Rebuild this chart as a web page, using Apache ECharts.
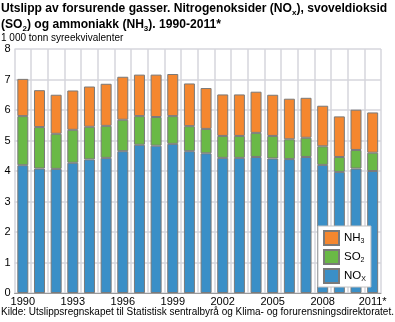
<!DOCTYPE html>
<html>
<head>
<meta charset="utf-8">
<script src="https://cdn.jsdelivr.net/npm/echarts@6/dist/echarts.min.js"></script>
<style>
  html, body { margin: 0; padding: 0; background: #fff; }
  #chart { width: 395px; height: 322px; }
</style>
</head>
<body>
<div id="chart"></div>
<script>
// Emissions of acidifying gases, 1 000 tonnes acid equivalents
const years = ['1990','1991','1992','1993','1994','1995','1996','1997','1998','1999','2000',
               '2001','2002','2003','2004','2005','2006','2007','2008','2009','2010','2011*'];
const nox = [4.19, 4.08, 4.07, 4.27, 4.38, 4.43, 4.65, 4.86, 4.83, 4.89, 4.65,
             4.58, 4.43, 4.43, 4.46, 4.41, 4.39, 4.46, 4.20, 3.97, 4.08, 4.00];
const so2 = [1.61, 1.36, 1.15, 1.08, 1.07, 1.05, 1.03, 0.94, 0.94, 0.91, 0.82,
             0.80, 0.72, 0.72, 0.79, 0.74, 0.65, 0.63, 0.61, 0.49, 0.61, 0.60];
const nh3 = [1.22, 1.21, 1.28, 1.29, 1.32, 1.38, 1.41, 1.36, 1.39, 1.38, 1.40,
             1.34, 1.36, 1.36, 1.35, 1.35, 1.33, 1.31, 1.33, 1.33, 1.32, 1.32];
const yTicks = [0, 1, 2, 3, 4, 5, 6, 7, 8];

const FONT = '"Liberation Sans", Arial, sans-serif';
const colors = { NOx: '#3a8fc7', SO2: '#6ab946', NH3: '#f5872f' };
const legendText = { NH3: 'NH{s|3}', SO2: 'SO{s|2}', NOx: 'NO{s|X}' };

const chart = echarts.init(document.getElementById('chart'), null, { renderer: 'canvas' });

function barSeries(name, data) {
  return {
    name: name,
    type: 'bar',
    stack: 'total',
    data: data,
    barWidth: '66%',
    itemStyle: { color: colors[name], borderColor: '#7a7a7a', borderWidth: 1 },
    emphasis: { disabled: true }
  };
}

chart.setOption({
  animation: false,
  title: [
    {
      text: 'Utslipp av forsurende gasser. Nitrogenoksider (NO{s|x}), svoveldioksid\n(SO{s|2}) og ammoniakk (NH{s|3}). 1990-2011*',
      left: 1, top: 1, padding: 0,
      textStyle: {
        fontFamily: FONT, fontSize: 12.1, fontWeight: 'bold', color: '#000', lineHeight: 16,
        rich: { s: { fontFamily: FONT, fontSize: 8, fontWeight: 'bold', color: '#000', padding: [7, 0, 0, 0], lineHeight: 16 } }
      }
    },
    {
      text: '1 000 tonn syreekvivalenter',
      left: 1, top: 33, padding: 0,
      textStyle: { fontFamily: FONT, fontSize: 10, fontWeight: 'normal', color: '#000' }
    },
    {
      text: 'Kilde: Utslippsregnskapet til Statistisk sentralbyrå og Klima- og forurensningsdirektoratet.',
      left: 1, top: 307, padding: 0,
      textStyle: { fontFamily: FONT, fontSize: 10, fontWeight: 'normal', color: '#000' }
    }
  ],
  grid: { left: 14.5, right: 14, top: 49, bottom: 29, containLabel: false },
  legend: {
    orient: 'vertical',
    left: 318, top: 226,
    data: ['NH3', 'SO2', 'NOx'],
    backgroundColor: '#fff',
    borderColor: '#c4c4c4', borderWidth: 1,
    padding: [4, 5, 3, 5],
    itemWidth: 15, itemHeight: 14, itemGap: 3,
    icon: 'rect',
    selectedMode: false,
    formatter: name => legendText[name],
    textStyle: {
      fontFamily: FONT, fontSize: 11.5, color: '#000',
      rich: { s: { fontFamily: FONT, fontSize: 7, color: '#000', padding: [6, 0, 0, 0] } }
    }
  },
  xAxis: {
    type: 'category',
    data: years,
    boundaryGap: true,
    axisLine: { show: true, lineStyle: { color: '#9a9a9a', width: 1 } },
    axisTick: { show: false },
    axisLabel: { interval: 2, margin: 3, fontFamily: FONT, fontSize: 11, color: '#000' },
    splitLine: { show: true, interval: 0, lineStyle: { color: '#d6d6dc', width: 1.5 } }
  },
  yAxis: {
    type: 'value',
    min: yTicks[0], max: yTicks[yTicks.length - 1], interval: 1,
    axisLine: { show: false },
    axisTick: { show: false },
    axisLabel: { margin: 4, fontFamily: FONT, fontSize: 11, color: '#000' },
    splitLine: { show: true, lineStyle: { color: '#d6d6dc', width: 1.5 } }
  },
  series: [
    barSeries('NOx', nox),
    barSeries('SO2', so2),
    barSeries('NH3', nh3)
  ]
});
</script>
</body>
</html>
